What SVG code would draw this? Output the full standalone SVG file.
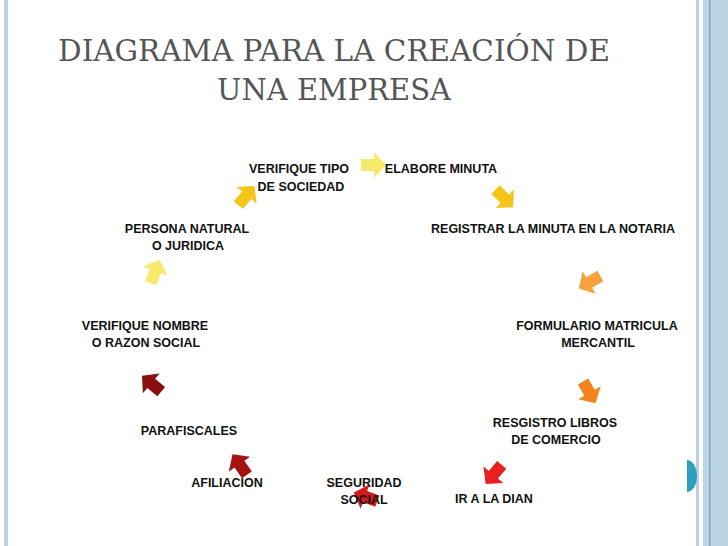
<svg xmlns="http://www.w3.org/2000/svg" width="728" height="546" viewBox="0 0 728 546">
<defs>
<style>
.t{font-family:"Liberation Sans",Arial,sans-serif;font-weight:bold;font-size:12.5px;fill:#111;text-anchor:middle}
.title{font-family:"DejaVu Serif","Liberation Serif",serif;font-size:29px;fill:#555;text-anchor:middle}
</style>
<path id="a" d="M-12,-6 L1,-6 L1,-13 L13,0 L1,13 L1,6 L-12,6 Z"/>
</defs>
<rect width="728" height="546" fill="#fff"/>
<rect x="4" y="0" width="4" height="546" fill="#b9d3e0"/>
<rect x="696" y="0" width="3" height="546" fill="#b9d3e0"/>
<rect x="703" y="0" width="25" height="546" fill="#bcd4e2"/>
<rect x="709" y="0" width="1.5" height="546" fill="#6fa9c4"/>
<path d="M687,460 A10,16 0 0 1 687,492 Z" fill="#2e9fbf"/>
<text class="title" x="334" y="61" textLength="552" lengthAdjust="spacingAndGlyphs">DIAGRAMA PARA LA CREACIÓN DE</text>
<text class="title" x="334" y="100" textLength="234" lengthAdjust="spacingAndGlyphs">UNA EMPRESA</text>
<g id="connectors">
<use href="#a" fill="#f7ea6a" transform="translate(373,165) rotate(0)"/>
<use href="#a" fill="#f5c518" transform="translate(504,198) rotate(45)"/>
<use href="#a" fill="#f7a23e" transform="translate(590,282) rotate(150)"/>
<use href="#a" fill="#f6841e" transform="translate(589,392) rotate(60)"/>
<use href="#a" fill="#e82020" transform="translate(494,474) rotate(130)"/>
<use href="#a" fill="#d21a1a" transform="translate(366,497) rotate(200)"/>
<use href="#a" fill="#a51212" transform="translate(240,465) rotate(235)"/>
<use href="#a" fill="#8a0e0e" transform="translate(152,384) rotate(220)"/>
<use href="#a" fill="#f7ea6a" transform="translate(155,272) rotate(290)"/>
<use href="#a" fill="#f5c518" transform="translate(246,196) rotate(310)"/>
</g>
<g id="n1"><text class="t" x="299" y="173">VERIFIQUE TIPO</text><text class="t" x="301" y="191">DE SOCIEDAD</text></g>
<g id="n2"><text class="t" x="441" y="173">ELABORE MINUTA</text></g>
<g id="n3"><text class="t" x="553" y="233">REGISTRAR LA MINUTA EN LA NOTARIA</text></g>
<g id="n4"><text class="t" x="597" y="330">FORMULARIO MATRICULA</text><text class="t" x="598" y="347">MERCANTIL</text></g>
<g id="n5"><text class="t" x="555" y="427">RESGISTRO LIBROS</text><text class="t" x="556" y="444">DE COMERCIO</text></g>
<g id="n6"><text class="t" x="494" y="503">IR A LA DIAN</text></g>
<g id="n7"><text class="t" x="364" y="487">SEGURIDAD</text><text class="t" x="364" y="504">SOCIAL</text></g>
<g id="n8"><text class="t" x="227" y="487">AFILIACION</text></g>
<g id="n9"><text class="t" x="189" y="435">PARAFISCALES</text></g>
<g id="n10"><text class="t" x="145" y="330">VERIFIQUE NOMBRE</text><text class="t" x="146" y="347">O RAZON SOCIAL</text></g>
<g id="n11"><text class="t" x="187" y="233">PERSONA NATURAL</text><text class="t" x="188" y="250">O JURIDICA</text></g>
</svg>
